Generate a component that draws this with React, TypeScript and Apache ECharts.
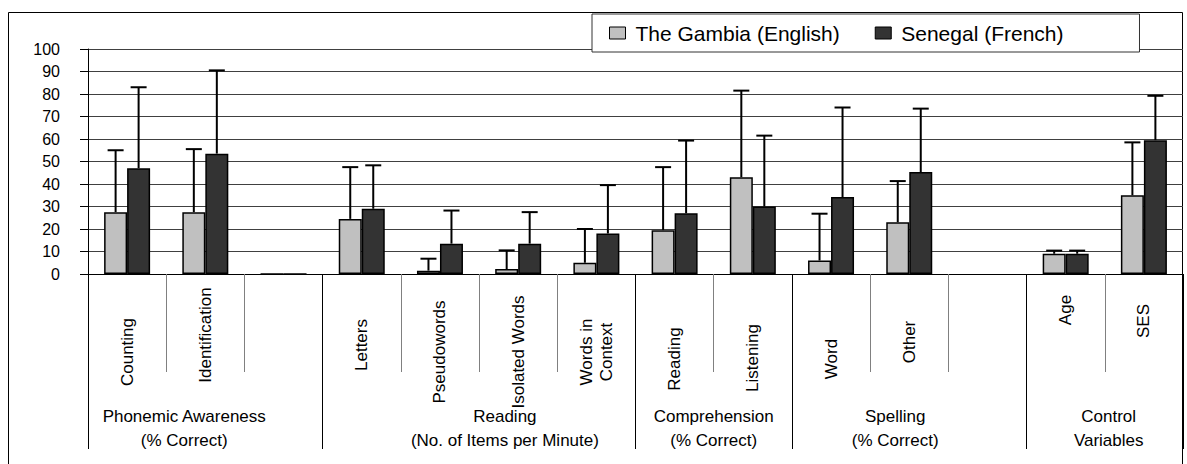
import React, { useEffect, useRef } from 'react';
import * as echarts from 'echarts';

// ---- data ----
const categories = [
  'Counting', 'Identification', '', 'Letters', 'Pseudowords', 'Isolated Words', 'Words in\nContext',
  'Reading', 'Listening', 'Word', 'Other', '', 'Age', 'SES',
];
const gambiaMean = [27.5, 27.5, 0, 24.5, 1.5, 2.2, 5, 19.5, 43, 6, 23, null, 9, 35];
const gambiaUpper = [55, 55.5, null, 47.5, 6.8, 10.5, 20, 47.5, 81.5, 26.8, 41.3, null, 10.4, 58.5];
const senegalMean = [47, 53.5, 0, 29, 13.5, 13.5, 18, 27, 30, 34.2, 45.3, null, 9, 59.5];
const senegalUpper = [83, 90.5, null, 48.3, 28.2, 27.5, 39.5, 59.3, 61.5, 74, 73.5, null, 10.4, 79.2];
const seriesNames = ['The Gambia (English)', 'Senegal (French)'];
const groupNames = [
  'Phonemic Awareness\n(% Correct)',
  'Reading\n(No. of Items per Minute)',
  'Comprehension\n(% Correct)',
  'Spelling\n(% Correct)',
  'Control\nVariables',
];
const groupBoundaries = [0, 3, 7, 9, 12, 14];
const groupLabelAt = [1.23, 5.33, 8.0, 10.32, 13.05];

// ---- style ----
const FONT = "'Liberation Sans', Arial, sans-serif";
const BAR_W = 23;
// vertical shift (px, + = down) of rotated category labels around their common centre
const labelNudge: Record<string, number> = {
  Identification: -17, Letters: -7, Reading: 7, Listening: 6, Word: 7, Other: -10, Age: -42, SES: -31,
};

function errorSeries(name: string, means: (number | null)[], uppers: (number | null)[], side: number) {
  const data: number[][] = [];
  means.forEach((m, i) => {
    const u = uppers[i];
    if (m != null && u != null) data.push([i, m, u]);
  });
  return {
    type: 'custom',
    name,
    data,
    encode: { x: 0, y: [1, 2] },
    silent: true,
    z: 5,
    renderItem: (_params: any, api: any) => {
      const i = api.value(0);
      const p0 = api.coord([i, api.value(1)]);
      const p1 = api.coord([i, api.value(2)]);
      const x = p0[0] + (side * BAR_W) / 2;
      return {
        type: 'group',
        children: [
          { type: 'line', shape: { x1: x, y1: p0[1], x2: x, y2: p1[1] }, style: { stroke: '#000', lineWidth: 2 } },
          { type: 'line', shape: { x1: x - 8, y1: p1[1], x2: x + 8, y2: p1[1] }, style: { stroke: '#000', lineWidth: 2 } },
        ],
      };
    },
  };
}

export default function App() {
  const ref = useRef<HTMLDivElement>(null);
  useEffect(() => {
    if (!ref.current) return;
    const chart = echarts.init(ref.current, null, { renderer: 'svg' });
    const catData = categories.map((c) => {
      const n = labelNudge[c] || 0;
      const pad = n < 0 ? [0, 0, 0, -2 * n] : n > 0 ? [0, 2 * n, 0, 0] : [0, 0, 0, 0];
      return {
        value: c,
        textStyle: {
          align: 'center',
          verticalAlign: 'middle',
          padding: pad,
          fontSize: 17,
          lineHeight: 20,
          fontFamily: FONT,
          color: '#000',
        },
      };
    });
    chart.setOption({
      animation: false,
      backgroundColor: '#fff',
      grid: { left: 88, right: 4, top: 49, bottom: 190, containLabel: false, outerBoundsMode: 'none' },
      legend: {
        data: seriesNames,
        left: 592,
        top: 14,
        itemWidth: 16,
        itemHeight: 12,
        itemGap: 35,
        padding: [7, 76, 7, 17],
        borderColor: '#333',
        borderWidth: 1,
        backgroundColor: '#fff',
        icon: 'rect',
        selectedMode: false,
        itemStyle: { borderColor: '#000', borderWidth: 1 },
        textStyle: { fontSize: 21, fontFamily: FONT, color: '#000', padding: [0, 0, 0, 5], lineHeight: 24 },
        z: 10,
      },
      xAxis: [
        {
          type: 'category',
          data: catData,
          position: 'bottom',
          axisLine: { show: true, lineStyle: { color: '#000', width: 1 } },
          axisTick: { show: true, length: 98, alignWithLabel: false, interval: 0, lineStyle: { color: '#808080' } },
          axisLabel: {
            interval: 0,
            rotate: 90,
            align: 'center',
            verticalAlign: 'middle',
            margin: 78,
            fontSize: 17,
            lineHeight: 20,
            fontFamily: FONT,
            color: '#000',
            hideOverlap: false,
          },
          splitLine: { show: false },
        },
        {
          type: 'value',
          position: 'bottom',
          min: 0,
          max: 14,
          axisLine: { show: false },
          splitLine: { show: false },
          axisTick: { show: true, customValues: groupBoundaries, length: 175, lineStyle: { color: '#000' } },
          axisLabel: {
            customValues: groupLabelAt,
            formatter: (v: number) => {
              const k = groupLabelAt.findIndex((p) => Math.abs(p - v) < 1e-6);
              return k >= 0 ? groupNames[k] : '';
            },
            margin: 154,
            verticalAlign: 'middle',
            align: 'center',
            lineHeight: 24,
            fontSize: 17,
            fontFamily: FONT,
            color: '#000',
          },
        },
      ],
      yAxis: {
        type: 'value',
        min: 0,
        max: 100,
        interval: 10,
        axisLine: { show: true, lineStyle: { color: '#000' } },
        axisTick: { show: true, length: 8, lineStyle: { color: '#000' } },
        splitLine: { show: true, lineStyle: { color: '#404040', width: 1 } },
        axisLabel: { margin: 28, fontSize: 16, fontFamily: FONT, color: '#000' },
      },
      graphic: [
        {
          type: 'rect',
          shape: { x: 8.5, y: 12.5, width: 1174, height: 480 },
          style: { fill: 'none', stroke: '#000', lineWidth: 1 },
          silent: true,
          z: -1,
        },
      ],
      series: [
        {
          type: 'bar',
          name: seriesNames[0],
          data: gambiaMean,
          barWidth: BAR_W,
          barGap: '0%',
          itemStyle: { color: '#C0C0C0', borderColor: '#000', borderWidth: 1.5 },
        },
        {
          type: 'bar',
          name: seriesNames[1],
          data: senegalMean,
          barWidth: BAR_W,
          barGap: '0%',
          itemStyle: { color: '#333333', borderColor: '#000', borderWidth: 1.5 },
        },
        errorSeries('err-g', gambiaMean, gambiaUpper, -1),
        errorSeries('err-s', senegalMean, senegalUpper, 1),
      ],
    });
    return () => chart.dispose();
  }, []);
  return (
    <div
      ref={ref}
      style={{ position: 'fixed', left: 0, top: 0, width: 1187, height: 464, background: '#fff' }}
    />
  );
}
